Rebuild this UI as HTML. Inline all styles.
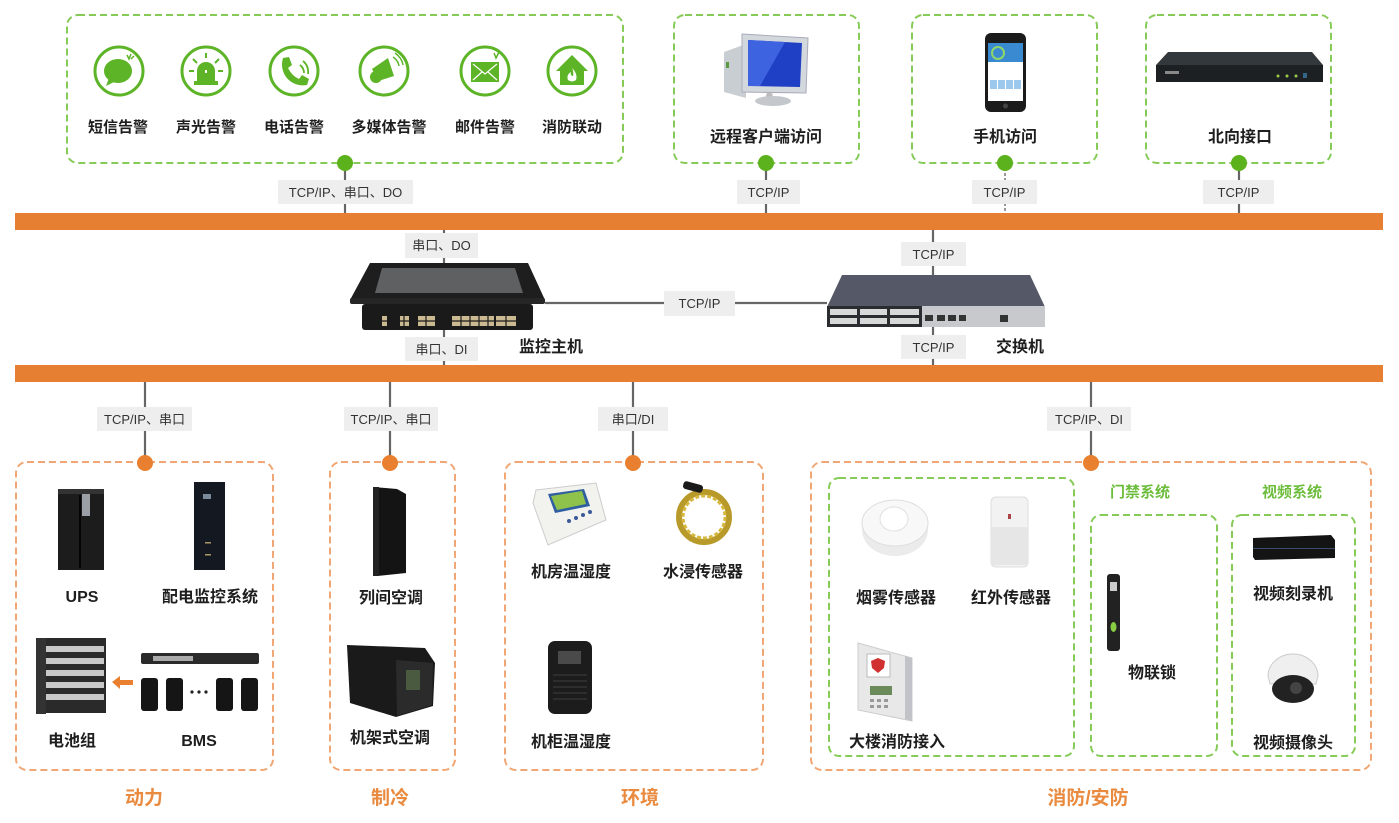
<!DOCTYPE html>
<html><head><meta charset="utf-8">
<style>
html,body{margin:0;padding:0;background:#fff;}
svg{display:block;}
text{font-family:"Liberation Sans","Noto Sans CJK SC",sans-serif;}
.lb{font-size:16px;font-weight:bold;fill:#1e1e1e;text-anchor:middle;}
.lt{font-size:15px;font-weight:bold;fill:#1e1e1e;text-anchor:middle;}
.cl{font-size:13px;fill:#333;text-anchor:middle;}
.cap{font-size:19px;font-weight:bold;fill:#e98a3f;text-anchor:middle;}
.gt{font-size:15px;font-weight:bold;fill:#6dbd3c;text-anchor:middle;}
.gbox{fill:none;stroke:#86cb58;stroke-width:2;stroke-dasharray:7 4;}
.obox{fill:none;stroke:#f0a775;stroke-width:2;stroke-dasharray:7 4;}
.ln{stroke:#666;stroke-width:2.2;}
.tag{fill:#eeeeee;}
.ic{fill:#fff;stroke:#5cb426;stroke-width:3;}
.ig{fill:#5cb426;}
</style></head>
<body>
<svg width="1399" height="823" viewBox="0 0 1399 823" xmlns="http://www.w3.org/2000/svg">
<!-- Orange bars -->
<rect x="15" y="213" width="1368" height="17" fill="#e77f33"/>
<rect x="15" y="365" width="1368" height="17" fill="#e77f33"/>

<!-- Top connectors -->
<line class="ln" x1="345" y1="163" x2="345" y2="213"/>
<line class="ln" x1="766" y1="163" x2="766" y2="213"/>
<line x1="1005" y1="163" x2="1005" y2="213" stroke="#777" stroke-width="1.5" stroke-dasharray="3 2"/>
<line class="ln" x1="1239" y1="163" x2="1239" y2="213"/>
<rect class="tag" x="278" y="180" width="135" height="24"/>
<text class="cl" x="345.5" y="197">TCP/IP、串口、DO</text>
<rect class="tag" x="737" y="180" width="63" height="24"/>
<text class="cl" x="768.5" y="197">TCP/IP</text>
<rect class="tag" x="972" y="180" width="65" height="24"/>
<text class="cl" x="1004.5" y="197">TCP/IP</text>
<rect class="tag" x="1203" y="180" width="71" height="24"/>
<text class="cl" x="1238.5" y="197">TCP/IP</text>

<!-- Top boxes -->
<rect class="gbox" x="67" y="15" width="556" height="148" rx="11"/>
<rect class="gbox" x="674" y="15" width="185" height="148" rx="11"/>
<rect class="gbox" x="912" y="15" width="185" height="148" rx="11"/>
<rect class="gbox" x="1146" y="15" width="185" height="148" rx="11"/>
<circle cx="345" cy="163" r="8" fill="#5cb21c"/>
<circle cx="766" cy="163" r="8" fill="#5cb21c"/>
<circle cx="1005" cy="163" r="8" fill="#5cb21c"/>
<circle cx="1239" cy="163" r="8" fill="#5cb21c"/>

<!-- Icons -->
<g transform="translate(119,71)"><circle class="ic" r="24"/>
<ellipse class="ig" cx="-1" cy="0" rx="14" ry="12"/><polygon class="ig" points="-10,7 -13,15 -3,10"/>
<path d="M8,-16 L10,-12 L12,-17 M12,-12 L15,-15" stroke="#5cb426" stroke-width="1.5" fill="none"/></g>
<g transform="translate(206,71)"><circle class="ic" r="24"/>
<path class="ig" d="M-9,10 L-9,0 A9,9 0 0 1 9,0 L9,10 Z"/><rect class="ig" x="-12" y="10" width="24" height="4"/>
<rect x="-1" y="-1" width="2" height="3" fill="#fff"/>
<path d="M0,-18 L0,-13 M-13,-12 L-9,-8 M13,-12 L9,-8 M-17,0 L-12,0 M17,0 L12,0" stroke="#5cb426" stroke-width="2"/></g>
<g transform="translate(294,71)"><circle class="ic" r="24"/>
<path class="ig" d="M-11,-13 L-5,-14 L-2,-6 L-6,-3 Q-2,5 5,8 L8,4 L15,8 L13,14 Q0,16 -8,6 Q-14,-3 -11,-13 Z"/>
<path d="M6,-6 Q10,-3 10,2 M9,-10 Q15,-5 14,3" stroke="#5cb426" stroke-width="1.8" fill="none"/></g>
<g transform="translate(384,71)"><circle class="ic" r="24"/>
<polygon class="ig" points="-12,-2 4,-13 10,5 -6,10"/><circle class="ig" cx="-8" cy="6" r="6"/>
<path d="M9,-14 Q14,-11 15,-5 M11,-18 Q18,-13 19,-6" stroke="#5cb426" stroke-width="1.5" fill="none"/></g>
<g transform="translate(485,71)"><circle class="ic" r="24"/>
<rect class="ig" x="-14" y="-9" width="28" height="20"/>
<path d="M-12,-7 L0,3 L12,-7 M-12,9 L-3,1 M12,9 L3,1" stroke="#fff" stroke-width="1.2" fill="none"/>
<path d="M9,-18 L11,-13 L14,-19" stroke="#5cb426" stroke-width="1.5" fill="none"/></g>
<g transform="translate(572,71)"><circle class="ic" r="24"/>
<polygon class="ig" points="0,-16 -16,0 -12,0 -12,14 12,14 12,0 16,0"/>
<path d="M0,-3 Q6,3 4,9 Q0,12 -4,9 Q-6,4 -1,1 Q-2,5 1,5 Q2,1 0,-3 Z" fill="#fff"/></g>

<text class="lt" x="118" y="132">短信告警</text>
<text class="lt" x="206" y="132">声光告警</text>
<text class="lt" x="294" y="132">电话告警</text>
<text class="lt" x="389" y="132">多媒体告警</text>
<text class="lt" x="485" y="132">邮件告警</text>
<text class="lt" x="572" y="132">消防联动</text>

<!-- Computer -->
<g>
<polygon points="724,52 746,44 746,98 724,92" fill="#c9ced3"/>
<rect x="726" y="62" width="3" height="6" fill="#5a9a40"/>
<polygon points="742,34 808,38 806,93 742,92" fill="#d3d8dd" stroke="#aab" stroke-width="1"/>
<polygon points="748,40 802,43 800,87 748,86" fill="#1f3fc4"/>
<polygon points="748,40 785,42 760,86 748,86" fill="#3d63e0"/>
<path d="M770,93 L768,100" stroke="#bbb" stroke-width="6"/>
<ellipse cx="773" cy="101" rx="18" ry="5" fill="#c4c8cc"/>
</g>
<text class="lb" x="766" y="142">远程客户端访问</text>

<!-- Phone -->
<rect x="985" y="33" width="41" height="79" rx="6" fill="#1b1b1b"/>
<rect x="988" y="43" width="35" height="58" fill="#fff"/>
<rect x="988" y="43" width="35" height="19" fill="#3a8ad2"/>
<circle cx="998" cy="53" r="6" fill="none" stroke="#8fd66a" stroke-width="2"/>
<rect x="990" y="80" width="7" height="9" fill="#9cc8ee"/><rect x="998" y="80" width="7" height="9" fill="#9cc8ee"/>
<rect x="1006" y="80" width="7" height="9" fill="#9cc8ee"/><rect x="1014" y="80" width="7" height="9" fill="#9cc8ee"/>
<circle cx="1005.5" cy="106" r="2.5" fill="#444"/>
<text class="lb" x="1005" y="142">手机访问</text>

<!-- North device -->
<polygon points="1168,52 1312,52 1323,65 1156,65" fill="#33383c"/>
<rect x="1156" y="65" width="167" height="17" fill="#1d2023"/>
<rect x="1165" y="71" width="14" height="3" fill="#888"/>
<circle cx="1278" cy="76" r="1.5" fill="#9c4"/><circle cx="1287" cy="76" r="1.5" fill="#9c4"/><circle cx="1296" cy="76" r="1.5" fill="#9c4"/>
<rect x="1303" y="73" width="4" height="5" fill="#368"/>
<text class="lb" x="1240" y="142">北向接口</text>

<!-- Middle connectors -->
<line class="ln" x1="444" y1="230" x2="444" y2="365"/>
<line class="ln" x1="933" y1="230" x2="933" y2="365"/>
<line class="ln" x1="545" y1="303" x2="827" y2="303"/>
<rect class="tag" x="405" y="233" width="73" height="25"/>
<text class="cl" x="441.5" y="250">串口、DO</text>
<rect class="tag" x="664" y="291" width="71" height="25"/>
<text class="cl" x="699.5" y="308">TCP/IP</text>
<rect class="tag" x="901" y="242" width="65" height="24"/>
<text class="cl" x="933.5" y="259">TCP/IP</text>

<!-- Monitor host -->
<polygon points="370,263 528,263 545,300 350,300" fill="#1e1e1e"/>
<polygon points="382,268 515,268 523,293 375,293" fill="#5f6062"/>
<rect x="350" y="298" width="195" height="6" rx="2" fill="#262626"/>
<rect x="362" y="304" width="171" height="26" rx="3" fill="#1a1a1a"/>
<g fill="#cbb991">
<rect x="382" y="316" width="5" height="10"/><rect x="400" y="316" width="9" height="10"/><rect x="418" y="316" width="17" height="10"/>
<rect x="452" y="316" width="42" height="10"/><rect x="496" y="316" width="20" height="10"/>
</g>
<g stroke="#1a1a1a" stroke-width="1.2">
<line x1="382" y1="321" x2="516" y2="321"/>
<line x1="426" y1="316" x2="426" y2="326"/><line x1="461" y1="316" x2="461" y2="326"/><line x1="470" y1="316" x2="470" y2="326"/><line x1="479" y1="316" x2="479" y2="326"/><line x1="488" y1="316" x2="488" y2="326"/><line x1="506" y1="316" x2="506" y2="326"/>
<line x1="404" y1="316" x2="404" y2="326"/>
</g>
<rect class="tag" x="405" y="337" width="73" height="24"/>
<text class="cl" x="441.5" y="354">串口、DI</text>
<text class="lb" x="551" y="352">监控主机</text>

<!-- Switch -->
<polygon points="842,275 1030,275 1045,307 827,307" fill="#555967"/>
<rect x="827" y="306" width="218" height="21" fill="#c8c9cd"/>
<rect x="827" y="306" width="95" height="21" fill="#2a2c30"/>
<g fill="#d8d8d8">
<rect x="830" y="309" width="27" height="6"/><rect x="860" y="309" width="27" height="6"/><rect x="890" y="309" width="29" height="6"/>
<rect x="830" y="318" width="27" height="6"/><rect x="860" y="318" width="27" height="6"/><rect x="890" y="318" width="29" height="6"/>
</g>
<rect x="925" y="315" width="8" height="6" fill="#333"/><rect x="937" y="315" width="8" height="6" fill="#333"/><rect x="948" y="315" width="8" height="6" fill="#333"/><rect x="959" y="315" width="7" height="6" fill="#333"/>
<rect x="1000" y="315" width="8" height="7" fill="#333"/>
<rect class="tag" x="901" y="335" width="65" height="24"/>
<text class="cl" x="933.5" y="352">TCP/IP</text>
<text class="lb" x="1020" y="352">交换机</text>

<!-- Bottom connectors -->
<line class="ln" x1="145" y1="382" x2="145" y2="463"/>
<line class="ln" x1="390" y1="382" x2="390" y2="463"/>
<line class="ln" x1="633" y1="382" x2="633" y2="463"/>
<line class="ln" x1="1091" y1="382" x2="1091" y2="463"/>
<rect class="tag" x="97" y="407" width="95" height="24"/>
<text class="cl" x="144.5" y="424">TCP/IP、串口</text>
<rect class="tag" x="344" y="407" width="94" height="24"/>
<text class="cl" x="391" y="424">TCP/IP、串口</text>
<rect class="tag" x="598" y="407" width="70" height="24"/>
<text class="cl" x="633" y="424">串口/DI</text>
<rect class="tag" x="1047" y="407" width="84" height="24"/>
<text class="cl" x="1089" y="424">TCP/IP、DI</text>

<!-- Bottom boxes -->
<rect class="obox" x="16" y="462" width="257" height="308" rx="11"/>
<rect class="obox" x="330" y="462" width="125" height="308" rx="11"/>
<rect class="obox" x="505" y="462" width="258" height="308" rx="11"/>
<rect class="obox" x="811" y="462" width="560" height="308" rx="11"/>
<rect class="gbox" x="829" y="478" width="245" height="278" rx="10"/>
<rect class="gbox" x="1091" y="515" width="126" height="241" rx="10"/>
<rect class="gbox" x="1232" y="515" width="123" height="241" rx="10"/>
<circle cx="145" cy="463" r="8" fill="#e8802f"/>
<circle cx="390" cy="463" r="8" fill="#e8802f"/>
<circle cx="633" cy="463" r="8" fill="#e8802f"/>
<circle cx="1091" cy="463" r="8" fill="#e8802f"/>

<!-- 动力 -->
<rect x="58" y="489" width="46" height="81" fill="#1c1c1c"/>
<rect x="58" y="489" width="46" height="5" fill="#333"/>
<rect x="79" y="495" width="2" height="73" fill="#050505"/>
<rect x="82" y="494" width="8" height="22" fill="#9aa0a6"/>
<rect x="194" y="482" width="31" height="88" fill="#141820"/>
<rect x="203" y="494" width="8" height="5" fill="#7a8a9a"/>
<rect x="205" y="542" width="6" height="1.5" fill="#a96"/><rect x="205" y="554" width="6" height="1.5" fill="#a96"/>
<text class="lb" x="82" y="602">UPS</text>
<text class="lb" x="210" y="602">配电监控系统</text>

<rect x="36" y="638" width="70" height="75" fill="#2a2a2a"/>
<g fill="#c8c8c8">
<rect x="46" y="646" width="58" height="6"/><rect x="46" y="658" width="58" height="6"/><rect x="46" y="670" width="58" height="6"/><rect x="46" y="682" width="58" height="6"/><rect x="46" y="694" width="58" height="6"/>
</g>
<rect x="36" y="638" width="10" height="76" fill="#333"/>
<polygon points="112,682 120,676 120,680 133,680 133,685 120,685 120,689" fill="#e8802f"/>
<rect x="141" y="653" width="118" height="11" rx="2" fill="#2a2a2a"/>
<rect x="153" y="656" width="40" height="5" fill="#aaa"/>
<rect x="141" y="678" width="17" height="33" rx="3" fill="#151515"/>
<rect x="166" y="678" width="17" height="33" rx="3" fill="#151515"/>
<rect x="216" y="678" width="17" height="33" rx="3" fill="#151515"/>
<rect x="241" y="678" width="17" height="33" rx="3" fill="#151515"/>
<circle cx="192" cy="692" r="1.6" fill="#222"/><circle cx="199" cy="692" r="1.6" fill="#222"/><circle cx="206" cy="692" r="1.6" fill="#222"/>
<text class="lb" x="72" y="746">电池组</text>
<text class="lb" x="199" y="746">BMS</text>

<!-- 制冷 -->
<polygon points="373,487 397,489 406,494 406,573 377,576 373,573" fill="#141414"/>
<rect x="373" y="487" width="6" height="89" fill="#222"/>
<text class="lb" x="391" y="603">列间空调</text>
<polygon points="347,645 425,648 435,663 433,706 396,717 350,703" fill="#1a1a1a"/>
<polygon points="396,660 433,663 432,705 397,716" fill="#2b2b2b"/>
<rect x="406" y="670" width="14" height="20" fill="#4a5a40"/>
<text class="lb" x="390" y="743">机架式空调</text>

<!-- 环境 -->
<polygon points="536,490 596,483 606,520 548,545 533,503" fill="#f2f2ee" stroke="#ccc" stroke-width="1"/>
<polygon points="548,494 584,489 590,506 555,513" fill="#2f5fa0"/>
<polygon points="551,496 582,491 586,504 557,510" fill="#8fc24a"/>
<g fill="#3a5a9a"><circle cx="569" cy="521" r="2"/><circle cx="576" cy="518" r="2"/><circle cx="583" cy="515" r="2"/><circle cx="590" cy="512" r="2"/></g>
<circle cx="704" cy="517" r="25" fill="none" stroke="#b89a2a" stroke-width="6"/>
<circle cx="704" cy="517" r="21" fill="none" stroke="#d6b840" stroke-width="3" stroke-dasharray="4 2"/>
<rect x="683" y="483" width="20" height="8" rx="3" fill="#1a1a1a" transform="rotate(15 693 487)"/>
<text class="lb" x="571" y="577">机房温湿度</text>
<text class="lb" x="703" y="577">水浸传感器</text>
<rect x="548" y="641" width="44" height="73" rx="7" fill="#1c1c1c"/>
<rect x="558" y="651" width="23" height="13" fill="#4a4a4a"/>
<g stroke="#333" stroke-width="1.5"><line x1="553" y1="675" x2="587" y2="675"/><line x1="553" y1="681" x2="587" y2="681"/><line x1="553" y1="687" x2="587" y2="687"/><line x1="553" y1="693" x2="587" y2="693"/><line x1="553" y1="699" x2="587" y2="699"/></g>
<text class="lb" x="571" y="747">机柜温湿度</text>

<!-- 消防/安防 -->
<ellipse cx="895" cy="530" rx="33" ry="26" fill="#ebebeb"/>
<ellipse cx="895" cy="523" rx="33" ry="23" fill="#f8f8f8" stroke="#ddd" stroke-width="1"/>
<ellipse cx="894" cy="519" rx="14" ry="12" fill="#fff" stroke="#e0e0e0" stroke-width="1"/>
<rect x="991" y="497" width="37" height="70" rx="5" fill="#f2f2f2" stroke="#ddd" stroke-width="1"/>
<rect x="991" y="527" width="37" height="38" rx="3" fill="#e6e6e6"/>
<rect x="1008" y="514" width="3" height="5" fill="#a44"/>
<text class="lb" x="896" y="603">烟雾传感器</text>
<text class="lb" x="1011" y="603">红外传感器</text>
<polygon points="858,643 912,658 912,721 858,710" fill="#e8e8e8" stroke="#ccc" stroke-width="1"/>
<polygon points="905,656 912,658 912,721 905,719" fill="#c0c4c8"/>
<rect x="867" y="654" width="23" height="23" fill="#fff" stroke="#bbb" stroke-width="1"/>
<path d="M878,658 L885,661 L884,668 L878,673 L872,668 L871,661 Z" fill="#d03030"/>
<rect x="870" y="686" width="22" height="9" fill="#6a8a5a"/>
<g fill="#999"><rect x="870" y="699" width="4" height="3"/><rect x="877" y="699" width="4" height="3"/><rect x="884" y="699" width="4" height="3"/><rect x="870" y="705" width="4" height="3"/><rect x="877" y="705" width="4" height="3"/><rect x="884" y="705" width="4" height="3"/></g>
<text class="lb" x="897" y="747">大楼消防接入</text>

<text class="gt" x="1140" y="497">门禁系统</text>
<text class="gt" x="1292" y="497">视频系统</text>
<rect x="1107" y="574" width="13" height="77" rx="3" fill="#222"/>
<rect x="1110" y="582" width="7" height="9" fill="#ccc"/>
<ellipse cx="1113.5" cy="627" rx="3" ry="5" fill="#8c4"/>
<text class="lb" x="1152" y="678">物联锁</text>
<polygon points="1253,538 1331,535 1335,540 1335,558 1255,560 1253,557" fill="#141414"/>
<rect x="1253" y="548" width="82" height="1" fill="#3a4a6a"/>
<text class="lb" x="1293" y="599">视频刻录机</text>
<path d="M1268,676 A25,22 0 0 1 1318,676 L1316,684 L1270,684 Z" fill="#efefef" stroke="#ccc" stroke-width="1"/>
<ellipse cx="1293" cy="689" rx="21" ry="14" fill="#222"/>
<circle cx="1296" cy="688" r="6" fill="#444"/>
<text class="lb" x="1293" y="748">视频摄像头</text>

<!-- Captions -->
<text class="cap" x="144" y="804">动力</text>
<text class="cap" x="390" y="804">制冷</text>
<text class="cap" x="640" y="804">环境</text>
<text class="cap" x="1088" y="804">消防/安防</text>
</svg>
</body></html>
